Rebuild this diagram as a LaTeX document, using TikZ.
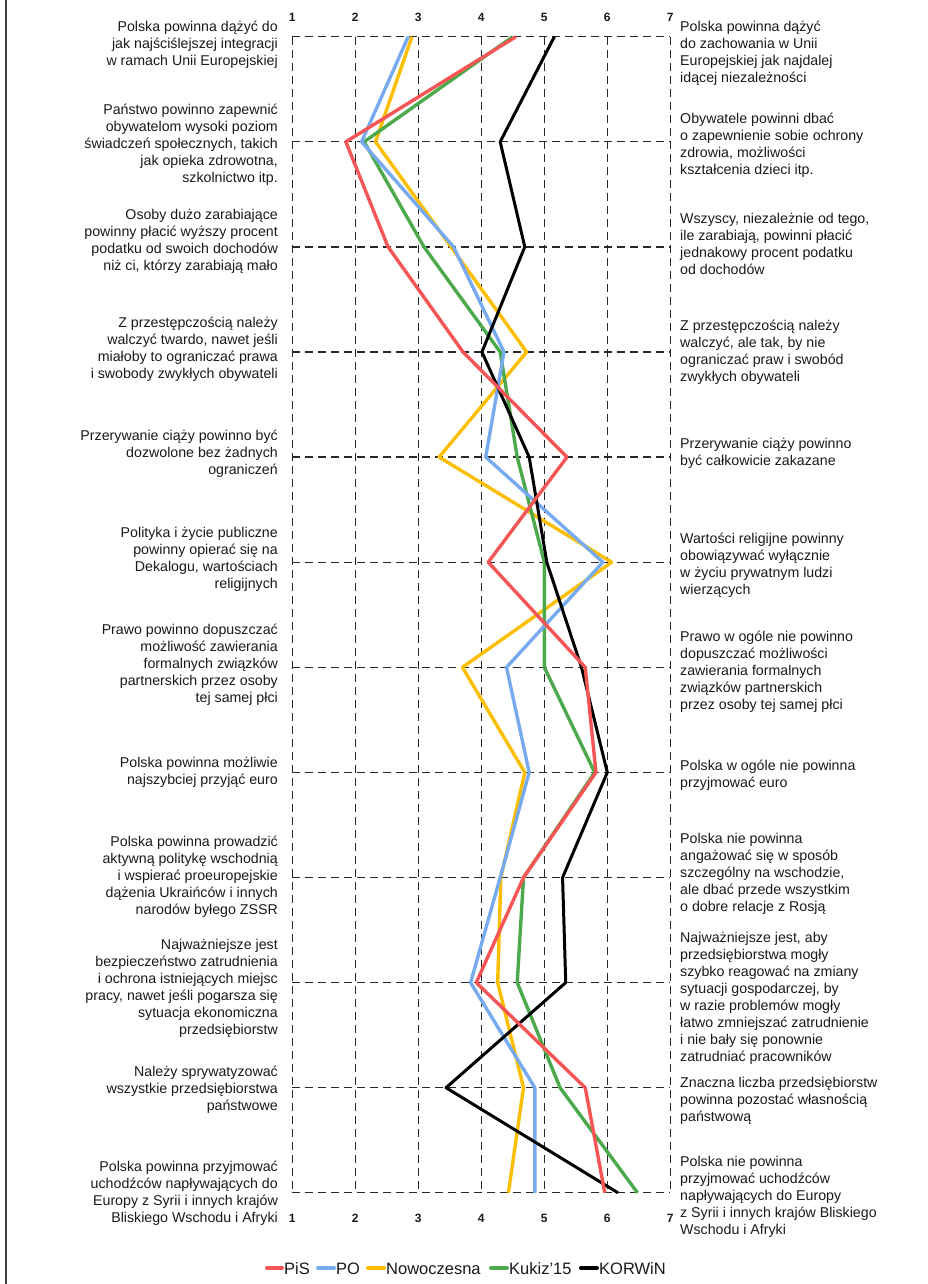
\documentclass[tikz,border=0pt]{standalone}
\usepackage{fontspec}
\setmainfont{Liberation Sans}
\definecolor{cpis}{RGB}{245,85,85}
\definecolor{cpo}{RGB}{120,170,240}
\definecolor{cnow}{RGB}{252,190,0}
\definecolor{ckuk}{RGB}{76,170,76}
\definecolor{ckor}{RGB}{0,0,0}
\definecolor{gridc}{RGB}{40,40,40}
\definecolor{txtc}{RGB}{25,25,30}
\tikzset{
  gridline/.style={gridc, line width=1.3pt, dash pattern=on 8pt off 5pt},
  series/.style={line width=3.4pt, line join=round},
  axlab/.style={font=\fontsize{12}{14}\selectfont\bfseries, inner sep=0pt, text=txtc},
  ltxt/.style={anchor=east, align=right, inner sep=0pt, text=txtc, font=\fontsize{14.2}{17}\selectfont},
  rtxt/.style={anchor=west, align=left, inner sep=0pt, text=txtc, font=\fontsize{14.2}{17}\selectfont},
  legline/.style={line width=4pt, line cap=round},
  legtxt/.style={anchor=base west, inner sep=0pt, text=txtc, font=\fontsize{16.5}{19}\selectfont}
}
\begin{document}
\begin{tikzpicture}[x=1pt,y=1pt]
\useasboundingbox (0,0) rectangle (928,-1284);
\draw[line width=1.5pt, gray!50!black] (6,0) -- (6,-1284);

\begin{scope}[shift={(229.3,-36.7)}, x=63pt, y=-105.1pt]
  \foreach \v in {1,...,7} {
    \draw[gridline] (\v,0) -- (\v,11);
    \node[axlab] (ta\v) at (\v,-0.181) {\v};
    \node[axlab] (ba\v) at (\v,11.24) {\v};
  }
  \foreach \i in {0,...,11} \draw[gridline] (1,\i) -- (7,\i);

  % Nowoczesna
  \draw[series, cnow] plot coordinates {(2.90,0) (2.32,1) (3.52,2) (4.72,3) (3.33,4) (6.07,5) (3.70,6) (4.69,7) (4.31,8) (4.26,9) (4.67,10) (4.43,11)};
  % Kukiz'15
  \draw[series, ckuk] plot coordinates {(4.50,0) (2.14,1) (3.09,2) (4.30,3) (4.57,4) (5.00,5) (5.00,6) (5.80,7) (4.67,8) (4.57,9) (5.25,10) (6.48,11)};
  % PO
  \draw[series, cpo] plot coordinates {(2.84,0) (2.10,1) (3.56,2) (4.36,3) (4.07,4) (5.93,5) (4.40,6) (4.76,7) (4.30,8) (3.83,9) (4.85,10) (4.85,11)};
  % KORWiN
  \draw[series, ckor, line width=3pt] plot coordinates {(5.16,0) (4.30,1) (4.69,2) (4.01,3) (4.76,4) (5.04,5) (5.59,6) (6.00,7) (5.29,8) (5.34,9) (3.44,10) (6.17,11)};
  % PiS
  \draw[series, cpis] plot coordinates {(4.55,0) (1.85,1) (2.52,2) (3.71,3) (5.36,4) (4.11,5) (5.65,6) (5.82,7) (4.67,8) (3.92,9) (5.65,10) (5.96,11)};
\end{scope}

% left statements
\node[ltxt] (l0) at (278,-45) {Polska powinna dążyć do\\jak najściślejszej integracji\\w ramach Unii Europejskiej};
\node[ltxt] (l1) at (278,-145) {Państwo powinno zapewnić\\obywatelom wysoki poziom\\świadczeń społecznych, takich\\jak opieka zdrowotna,\\szkolnictwo itp.};
\node[ltxt] (l2) at (278,-241) {Osoby dużo zarabiające\\powinny płacić wyższy procent\\podatku od swoich dochodów\\niż ci, którzy zarabiają mało};
\node[ltxt] (l3) at (278,-349) {Z przestępczością należy\\walczyć twardo, nawet jeśli\\miałoby to ograniczać prawa\\i swobody zwykłych obywateli};
\node[ltxt] (l4) at (278,-454) {Przerywanie ciąży powinno być\\dozwolone bez żadnych\\ograniczeń};
\node[ltxt] (l5) at (278,-559) {Polityka i życie publiczne\\powinny opierać się na\\Dekalogu, wartościach\\religijnych};
\node[ltxt] (l6) at (278,-665) {Prawo powinno dopuszczać\\możliwość zawierania\\formalnych związków\\partnerskich przez osoby\\tej samej płci};
\node[ltxt] (l7) at (278,-772) {Polska powinna możliwie\\najszybciej przyjąć euro};
\node[ltxt] (l8) at (278,-877) {Polska powinna prowadzić\\aktywną politykę wschodnią\\i wspierać proeuropejskie\\dążenia Ukraińców i innych\\narodów byłego ZSSR};
\node[ltxt] (l9) at (278,-988) {Najważniejsze jest\\bezpieczeństwo zatrudnienia\\i ochrona istniejących miejsc\\pracy, nawet jeśli pogarsza się\\sytuacja ekonomiczna\\przedsiębiorstw};
\node[ltxt] (l10) at (278,-1090) {Należy sprywatyzować\\wszystkie przedsiębiorstwa\\państwowe};
\node[ltxt] (l11) at (278,-1193) {Polska powinna przyjmować\\uchodźców napływających do\\Europy z Syrii i innych krajów\\Bliskiego Wschodu i Afryki};

% right statements
\node[rtxt] (r0) at (680,-53) {Polska powinna dążyć\\do zachowania w Unii\\Europejskiej jak najdalej\\idącej niezależności};
\node[rtxt] (r1) at (680,-145) {Obywatele powinni dbać\\o zapewnienie sobie ochrony\\zdrowia, możliwości\\kształcenia dzieci itp.};
\node[rtxt] (r2) at (680,-244) {Wszyscy, niezależnie od tego,\\ile zarabiają, powinni płacić\\jednakowy procent podatku\\od dochodów};
\node[rtxt] (r3) at (680,-352) {Z przestępczością należy\\walczyć, ale tak, by nie\\ograniczać praw i swobód\\zwykłych obywateli};
\node[rtxt] (r4) at (680,-453) {Przerywanie ciąży powinno\\być całkowicie zakazane};
\node[rtxt] (r5) at (680,-565) {Wartości religijne powinny\\obowiązywać wyłącznie\\w życiu prywatnym ludzi\\wierzących};
\node[rtxt] (r6) at (680,-672) {Prawo w ogóle nie powinno\\dopuszczać możliwości\\zawierania formalnych\\związków partnerskich\\przez osoby tej samej płci};
\node[rtxt] (r7) at (680,-775) {Polska w ogóle nie powinna\\przyjmować euro};
\node[rtxt] (r8) at (680,-874) {Polska nie powinna\\angażować się w sposób\\szczególny na wschodzie,\\ale dbać przede wszystkim\\o dobre relacje z Rosją};
\node[rtxt] (r9) at (680,-998) {Najważniejsze jest, aby\\przedsiębiorstwa mogły\\szybko reagować na zmiany\\sytuacji gospodarczej, by\\w razie problemów mogły\\łatwo zmniejszać zatrudnienie\\i nie bały się ponownie\\zatrudniać pracowników};
\node[rtxt] (r10) at (680,-1101) {Znaczna liczba przedsiębiorstw\\powinna pozostać własnością\\państwową};
\node[rtxt] (r11) at (680,-1197) {Polska nie powinna\\przyjmować uchodźców\\napływających do Europy\\z Syrii i innych krajów Bliskiego\\Wschodu i Afryki};

% legend
\coordinate (g1a) at (267,-1268); \coordinate (g1b) at (282,-1268);
\coordinate (g2a) at (318,-1268); \coordinate (g2b) at (334,-1268);
\coordinate (g3a) at (368,-1268); \coordinate (g3b) at (384,-1268);
\coordinate (g4a) at (491,-1268); \coordinate (g4b) at (507,-1268);
\coordinate (g5a) at (581,-1268); \coordinate (g5b) at (597,-1268);
\draw[legline, cpis] (g1a) -- (g1b);
\draw[legline, cpo] (g2a) -- (g2b);
\draw[legline, cnow] (g3a) -- (g3b);
\draw[legline, ckuk] (g4a) -- (g4b);
\draw[legline, ckor] (g5a) -- (g5b);
\node[legtxt] (lg1) at (284,-1274) {PiS};
\node[legtxt] (lg2) at (336,-1274) {PO};
\node[legtxt] (lg3) at (386,-1274) {Nowoczesna};
\node[legtxt] (lg4) at (509,-1274) {Kukiz’15};
\node[legtxt] (lg5) at (599,-1274) {KORWiN};
\end{tikzpicture}
\end{document}
